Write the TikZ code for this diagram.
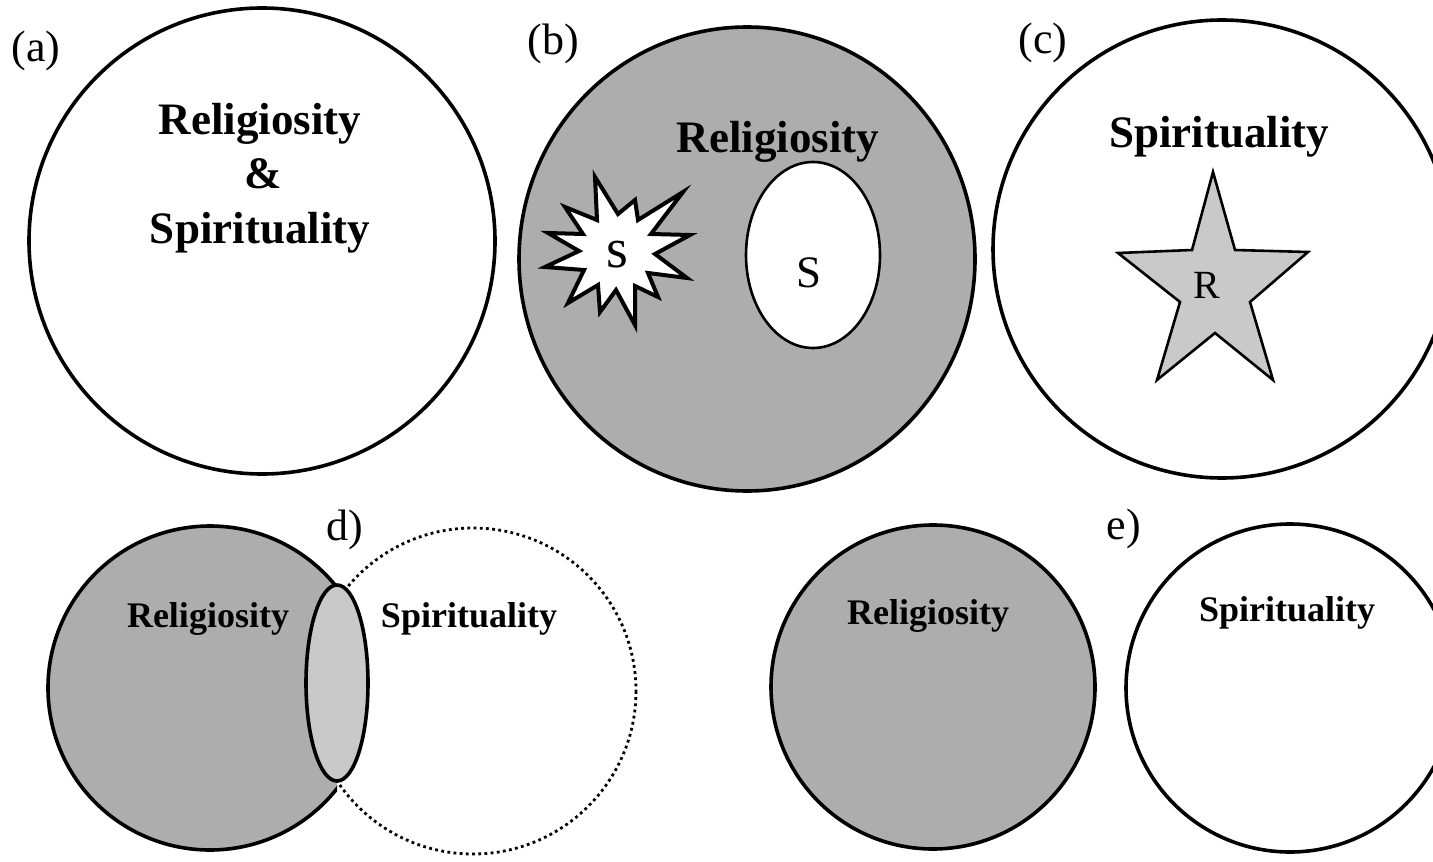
\documentclass[tikz,border=0pt]{standalone}
\usepackage{fontspec}
\setmainfont{Liberation Serif}
\definecolor{stipple}{gray}{0.68}
\definecolor{stipplelight}{gray}{0.79}
\tikzset{
  outline/.style={line width=1.8pt},
  thinline/.style={line width=1.3pt},
  dotline/.style={line width=1.4pt, dash pattern=on 1.4pt off 1.7pt},
  bigbold/.style={font=\fontsize{22.5}{27}\selectfont\bfseries, inner sep=0pt, anchor=base},
  smallbold/.style={font=\fontsize{18}{22}\selectfont\bfseries, inner sep=0pt, anchor=base},
  panel/.style={font=\fontsize{22}{26}\selectfont, inner sep=0pt, anchor=base},
  letter/.style={inner sep=0pt, anchor=base},
}
\begin{document}
\begin{tikzpicture}[x=0.5pt,y=-0.5pt]
\useasboundingbox (0,0) rectangle (1433,861);
\clip (0,0) rectangle (1433,861);
\fill[white] (0,0) rectangle (1433,861);

% (a)
\draw[outline] (262,241) circle[radius=233];
\node[panel] (la) at (36,62) {(a)};
\node[bigbold] (a1) at (260,135) {Religiosity};
\node[bigbold] (a2) at (263,189) {\&};
\node[bigbold] (a3) at (260,243) {Spirituality};

% (b)
\draw[outline, fill=stipple] (747,259) ellipse[x radius=228, y radius=232];
\draw[thinline, fill=white] (813,255) ellipse[x radius=67, y radius=93];
\draw[line width=2pt, fill=white, line join=miter, miter limit=20]
  (595,177) -- (618,214) -- (635,200) -- (638,220) -- (683,192) -- (651,234)
  -- (690,235) -- (655,254) -- (687,278) -- (648,273) -- (658,297) -- (635,286)
  -- (635,325) -- (616,290) -- (600,312) -- (598,285) -- (568,303) -- (584,270)
  -- (545,267) -- (579,251) -- (548,233) -- (583,234) -- (565,207) -- (597,220) -- cycle;
\node[panel] (lb) at (553,55) {(b)};
\node[bigbold] (b1) at (778,153) {Religiosity};
\node[letter, font=\fontsize{22.5}{27}\selectfont] (bS) at (809,287) {S};
\node[letter, font=\fontsize{28}{32}\selectfont] (bs) at (617,267) {s};

% (c)
\draw[outline] (1222,249) circle[radius=229];
\draw[thinline, fill=stipplelight, line join=miter, miter limit=20]
  (1213,172) -- (1235,250) -- (1308,252) -- (1250,302) -- (1273,380) -- (1215,333)
  -- (1157,380) -- (1180,302) -- (1118,253) -- (1192,250) -- cycle;
\node[panel] (lc) at (1043,54) {(c)};
\node[bigbold] (c1) at (1219,148) {Spirituality};
\node[letter, font=\fontsize{20}{24}\selectfont] (cR) at (1207,298) {R};

% d)
\draw[dotline] (473,691) circle[radius=163];
\begin{scope}
  \clip (0,0) rectangle (337,861);
  \draw[outline, fill=stipple] (210,688) circle[radius=162];
\end{scope}
\draw[outline, fill=stipplelight] (337,683) ellipse[x radius=31, y radius=98];
\node[panel] (ld) at (345,540) {d)};
\node[smallbold] (d1) at (208,627) {Religiosity};
\node[smallbold] (d2) at (469,627) {Spirituality};

% e)
\draw[outline, fill=stipple] (933,687) circle[radius=162];
\draw[outline] (1290,688) circle[radius=164];
\node[panel] (le) at (1124,539) {e)};
\node[smallbold] (e1) at (928,624) {Religiosity};
\node[smallbold] (e2) at (1287,621) {Spirituality};
\end{tikzpicture}
\end{document}
